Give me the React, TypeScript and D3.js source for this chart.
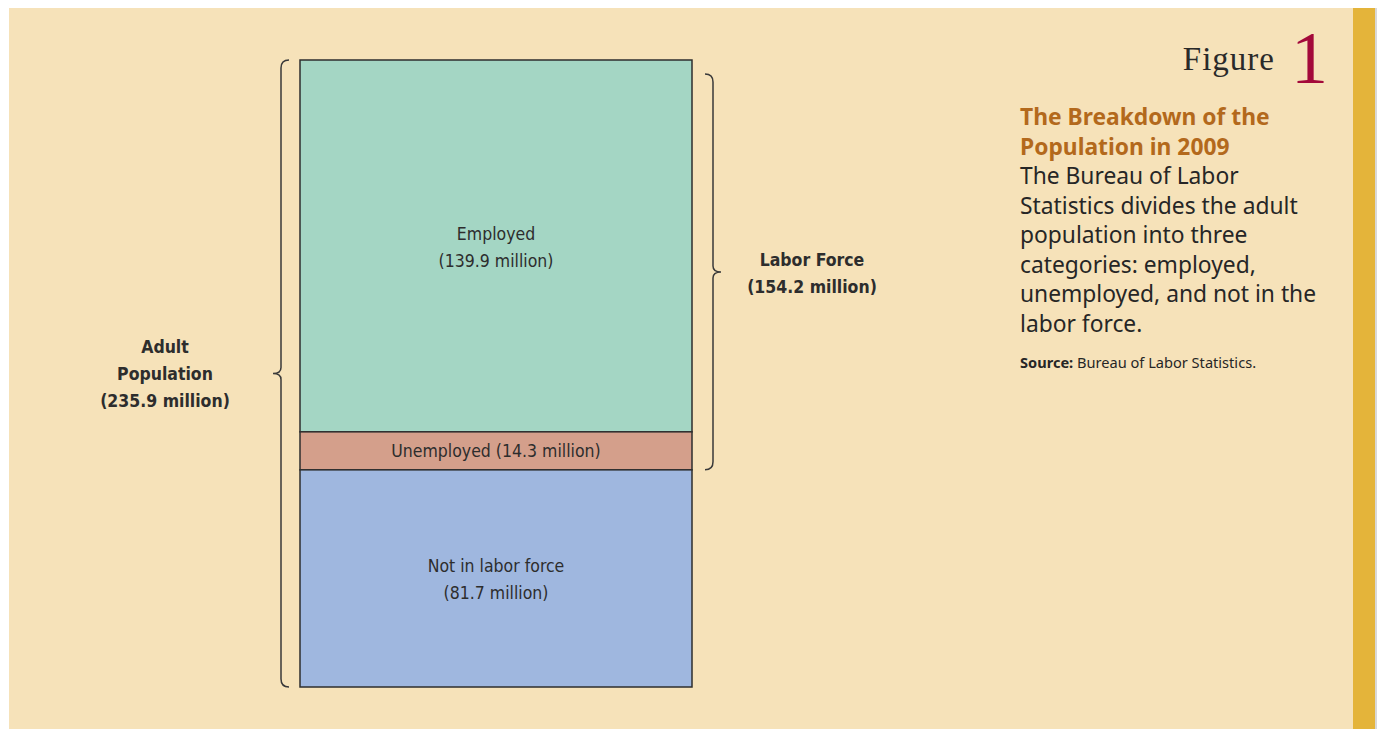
import React, { useEffect, useRef } from "react";
import * as d3 from "d3";

// population categories (millions), top to bottom
const categories = ["Employed", "Unemployed", "Not in labor force"];
const values = [139.9, 14.3, 81.7];
const valueLabels = ["(139.9 million)", "(14.3 million)", "(81.7 million)"];
const colors = ["#a4d6c4", "#d49f8b", "#9fb7df"];

const adultLabel = ["Adult", "Population", "(235.9 million)"];
const laborLabel = ["Labor Force", "(154.2 million)"];

const titleLines = ["The Breakdown of the", "Population in 2009"];
const bodyLines = [
  "The Bureau of Labor",
  "Statistics divides the adult",
  "population into three",
  "categories: employed,",
  "unemployed, and not in the",
  "labor force.",
];

const W = 1377;
const H = 729;
const narrow = "'Liberation Sans Narrow', 'DejaVu Sans Condensed', 'Roboto Condensed', Roboto, sans-serif";
const sans = "'Noto Sans', 'Open Sans', sans-serif";

// vertical curly brace; dir = 1 points left (curls to the right), dir = -1 points right
const bracePath = (x: number, y0: number, y1: number, dir: number) => {
  const c = 8 * dir;
  const mid = (y0 + y1) / 2;
  const p = d3.path();
  p.moveTo(x + c, y0);
  p.quadraticCurveTo(x, y0, x, y0 + 8);
  p.lineTo(x, mid - 6);
  p.quadraticCurveTo(x, mid, x - c, mid);
  p.quadraticCurveTo(x, mid, x, mid + 6);
  p.lineTo(x, y1 - 8);
  p.quadraticCurveTo(x, y1, x + c, y1);
  return p.toString();
};

const App = () => {
  const ref = useRef<SVGSVGElement>(null);

  useEffect(() => {
    const svg = d3.select(ref.current);
    svg.selectAll("*").remove();

    const total = d3.sum(values);
    const y = d3.scaleLinear().domain([0, total]).range([60, 687]);
    const x0 = 300;
    const x1 = 692;
    const stacked = values.map((v, i) => {
      const start = d3.sum(values.slice(0, i));
      return { name: categories[i], label: valueLabels[i], color: colors[i], y0: y(start), y1: y(start + v) };
    });

    // panel background
    svg.append("rect").attr("width", W).attr("height", H).attr("fill", "#ffffff");
    svg.append("rect").attr("x", 9).attr("y", 8).attr("width", 1344).attr("height", H - 8).attr("fill", "#f6e2b9");
    svg.append("rect").attr("x", 1353).attr("y", 8).attr("width", 22).attr("height", H - 8).attr("fill", "#e4b43a");
    svg.append("rect").attr("x", 1375).attr("y", 8).attr("width", 2).attr("height", H - 8).attr("fill", "#d8d8d8");

    // stacked bar
    svg
      .selectAll("rect.seg")
      .data(stacked)
      .enter()
      .append("rect")
      .attr("class", "seg")
      .attr("x", x0)
      .attr("y", d => d.y0)
      .attr("width", x1 - x0)
      .attr("height", d => d.y1 - d.y0)
      .attr("fill", d => d.color)
      .attr("stroke", "#2e2e2e")
      .attr("stroke-width", 1.5);

    const cx = (x0 + x1) / 2;
    const txt = svg.append("g").attr("font-family", narrow).attr("font-size", 17.5).attr("fill", "#2d2d2d").attr("text-anchor", "middle");
    stacked.forEach((d, i) => {
      const m = (d.y0 + d.y1) / 2;
      if (i === 1) {
        txt.append("text").attr("x", cx).attr("y", m + 6).text(`${d.name} ${d.label}`);
      } else {
        const t = txt.append("text").attr("x", cx).attr("y", m - 6);
        t.append("tspan").attr("x", cx).text(d.name);
        t.append("tspan").attr("x", cx).attr("dy", 27).text(d.label);
      }
    });

    // braces
    const braceStyle = (s: any) => s.attr("fill", "none").attr("stroke", "#3a3a3a").attr("stroke-width", 1.5);
    svg.append("path").attr("d", bracePath(281, y(0), y(total), 1)).call(braceStyle);
    const laborEnd = y(values[0] + values[1]);
    svg.append("path").attr("d", bracePath(713, y(0) + 14, laborEnd, -1)).call(braceStyle);

    const bold = svg.append("g").attr("font-family", narrow).attr("font-size", 17.5).attr("font-weight", "bold").attr("fill", "#2d2d2d").attr("text-anchor", "middle");
    const aMid = (y(0) + y(total)) / 2;
    adultLabel.forEach((s, i) => {
      bold.append("text").attr("x", 165).attr("y", aMid - 21 + i * 27).text(s);
    });
    const lMid = (y(0) + 14 + laborEnd) / 2;
    laborLabel.forEach((s, i) => {
      bold.append("text").attr("x", 812).attr("y", lMid - 6 + i * 27).text(s);
    });

    // figure heading
    svg.append("text").attr("x", 1275).attr("y", 70).attr("text-anchor", "end")
      .attr("font-family", "'Liberation Serif', 'DejaVu Serif', serif").attr("font-size", 33)
      .attr("letter-spacing", 1).attr("fill", "#2a2a2a").text("Figure");
    svg.append("text").attr("x", 1291).attr("y", 83)
      .attr("font-family", "'Liberation Serif', 'DejaVu Serif', serif").attr("font-size", 74)
      .attr("fill", "#a3093a").text("1");

    titleLines.forEach((s, i) => {
      svg.append("text").attr("x", 1020).attr("y", 125 + i * 29.5)
        .attr("font-family", sans).attr("font-size", 22.8).attr("font-weight", "bold")
        .attr("fill", "#b3691c").text(s);
    });
    bodyLines.forEach((s, i) => {
      svg.append("text").attr("x", 1020).attr("y", 184 + i * 29.5)
        .attr("font-family", sans).attr("font-size", 22.8).attr("fill", "#262626").text(s);
    });
    const src = svg.append("text").attr("x", 1020).attr("y", 368)
      .attr("font-family", sans).attr("font-size", 14.6).attr("fill", "#262626");
    src.append("tspan").attr("font-weight", "bold").text("Source:");
    src.append("tspan").text(" Bureau of Labor Statistics.");
  }, []);

  return (
    <svg
      ref={ref}
      width={W}
      height={H}
      style={{ position: "absolute", left: 0, top: 0 }}
    ></svg>
  );
};

export default App;
